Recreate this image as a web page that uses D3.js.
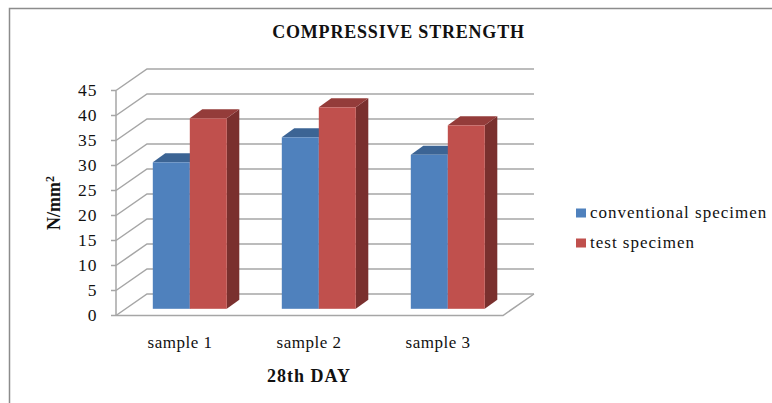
<!DOCTYPE html>
<html>
<head>
<script src="https://cdnjs.cloudflare.com/ajax/libs/d3/7.8.5/d3.min.js"></script>
<style>
  html, body { margin: 0; padding: 0; background: #fff; }
  svg { display: block; }
  text { font-family: "Liberation Serif", serif; fill: #111; }
</style>
</head>
<body>
<svg id="chart" width="772" height="403"></svg>
<script>
const categories = ["sample 1", "sample 2", "sample 3"];
const seriesNames = ["conventional specimen", "test specimen"];
const conventional = [29.3, 34.3, 30.8];
const testSpecimen = [38.1, 40.3, 36.7];
const yTicks = [0, 5, 10, 15, 20, 25, 30, 35, 40, 45];

const colors = ["#4f81bd", "#c0504d"];
const topColors = ["#3c6494", "#943c3a"];
const sideColors = ["#335a88", "#7a302e"];

const svg = d3.select("#chart");

// outer frame
svg.append("path")
  .attr("d", "M9.5,403V8.5H772")
  .attr("fill", "none")
  .attr("stroke", "#8c8c8c")
  .attr("stroke-width", 1.5);

const x = d3.scaleBand().domain(categories).range([116, 503]);
const y = d3.scaleLinear().domain([0, 45]).range([315.5, 90.5]);

// 3d offsets
const wallDx = 31, wallDy = -21.5;
const barShiftX = 9.3, barShiftY = -6.7;
const depthX = 12.5, depthY = -9;
const barW = 37;

const grid = svg.append("g").attr("fill", "none").attr("stroke", "#a6a6a6").attr("stroke-width", 1.5);

// back wall gridlines + side wall diagonals
yTicks.forEach(t => {
  grid.append("path").attr("d", d3.line()([
    [x.range()[0], y(t)],
    [x.range()[0] + wallDx, y(t) + wallDy],
    [x.range()[1] + wallDx, y(t) + wallDy]
  ]));
});

// left axis and tick marks
grid.append("line")
  .attr("x1", x.range()[0]).attr("x2", x.range()[0])
  .attr("y1", y(0)).attr("y2", y(45));
yTicks.forEach(t => {
  grid.append("line")
    .attr("x1", x.range()[0] - 5).attr("x2", x.range()[0])
    .attr("y1", y(t)).attr("y2", y(t));
});

// floor
grid.append("path").attr("d", d3.line()([
  [x.range()[0], y(0)],
  [x.range()[1], y(0)],
  [x.range()[1] + wallDx, y(0) + wallDy]
]));

// y labels
svg.append("g").selectAll("text")
  .data(yTicks)
  .join("text")
  .attr("x", 97.5)
  .attr("y", d => y(d) + 5.7)
  .attr("text-anchor", "end")
  .attr("font-size", 17.5)
  .attr("letter-spacing", 1)
  .text(d => d);

// bars
const groups = svg.append("g");
categories.forEach((c, ci) => {
  [conventional, testSpecimen].forEach((values, si) => {
    const left = x(c) + 27.5 + barShiftX + si * barW;
    const right = left + barW;
    const top = y(values[ci]) + barShiftY;
    const base = y(0) + barShiftY;
    const g = groups.append("g");
    g.append("path") // side
      .attr("fill", sideColors[si])
      .attr("d", d3.line()([
        [right, top], [right + depthX, top + depthY],
        [right + depthX, base + depthY], [right, base]
      ]));
    g.append("path") // top
      .attr("fill", topColors[si])
      .attr("d", d3.line()([
        [left, top], [left + depthX, top + depthY],
        [right + depthX, top + depthY], [right, top]
      ]));
    g.append("rect")
      .attr("x", left).attr("y", top)
      .attr("width", barW).attr("height", base - top)
      .attr("fill", colors[si]);
  });
});

// category labels
svg.append("g").selectAll("text")
  .data(categories)
  .join("text")
  .attr("x", d => x(d) + x.bandwidth() / 2 - 0.5)
  .attr("y", 348)
  .attr("text-anchor", "middle")
  .attr("font-size", 17)
  .attr("letter-spacing", 0.5)
  .text(d => d);

// titles
svg.append("text")
  .attr("x", 398.5).attr("y", 38)
  .attr("text-anchor", "middle")
  .attr("font-size", 18).attr("font-weight", "bold")
  .attr("letter-spacing", 0.8)
  .text("COMPRESSIVE STRENGTH");

svg.append("text")
  .attr("x", 309).attr("y", 382)
  .attr("text-anchor", "middle")
  .attr("font-size", 18).attr("font-weight", "bold")
  .attr("letter-spacing", 1)
  .text("28th DAY");

const yTitle = svg.append("text")
  .attr("transform", "translate(60,203) rotate(-90)")
  .attr("text-anchor", "middle")
  .attr("font-size", 18).attr("font-weight", "bold");
yTitle.append("tspan").text("N/mm");
yTitle.append("tspan").attr("font-size", 12).attr("dy", -6).text("2");

// legend
const legend = svg.append("g").selectAll("g")
  .data(seriesNames)
  .join("g")
  .attr("transform", (d, i) => `translate(576,${213 + i * 30})`);
legend.append("rect")
  .attr("y", -4.5).attr("width", 10).attr("height", 9)
  .attr("fill", (d, i) => colors[i]);
legend.append("text")
  .attr("x", 14).attr("y", 5)
  .attr("font-size", 17)
  .attr("letter-spacing", 1)
  .text(d => d);
</script>
</body>
</html>
